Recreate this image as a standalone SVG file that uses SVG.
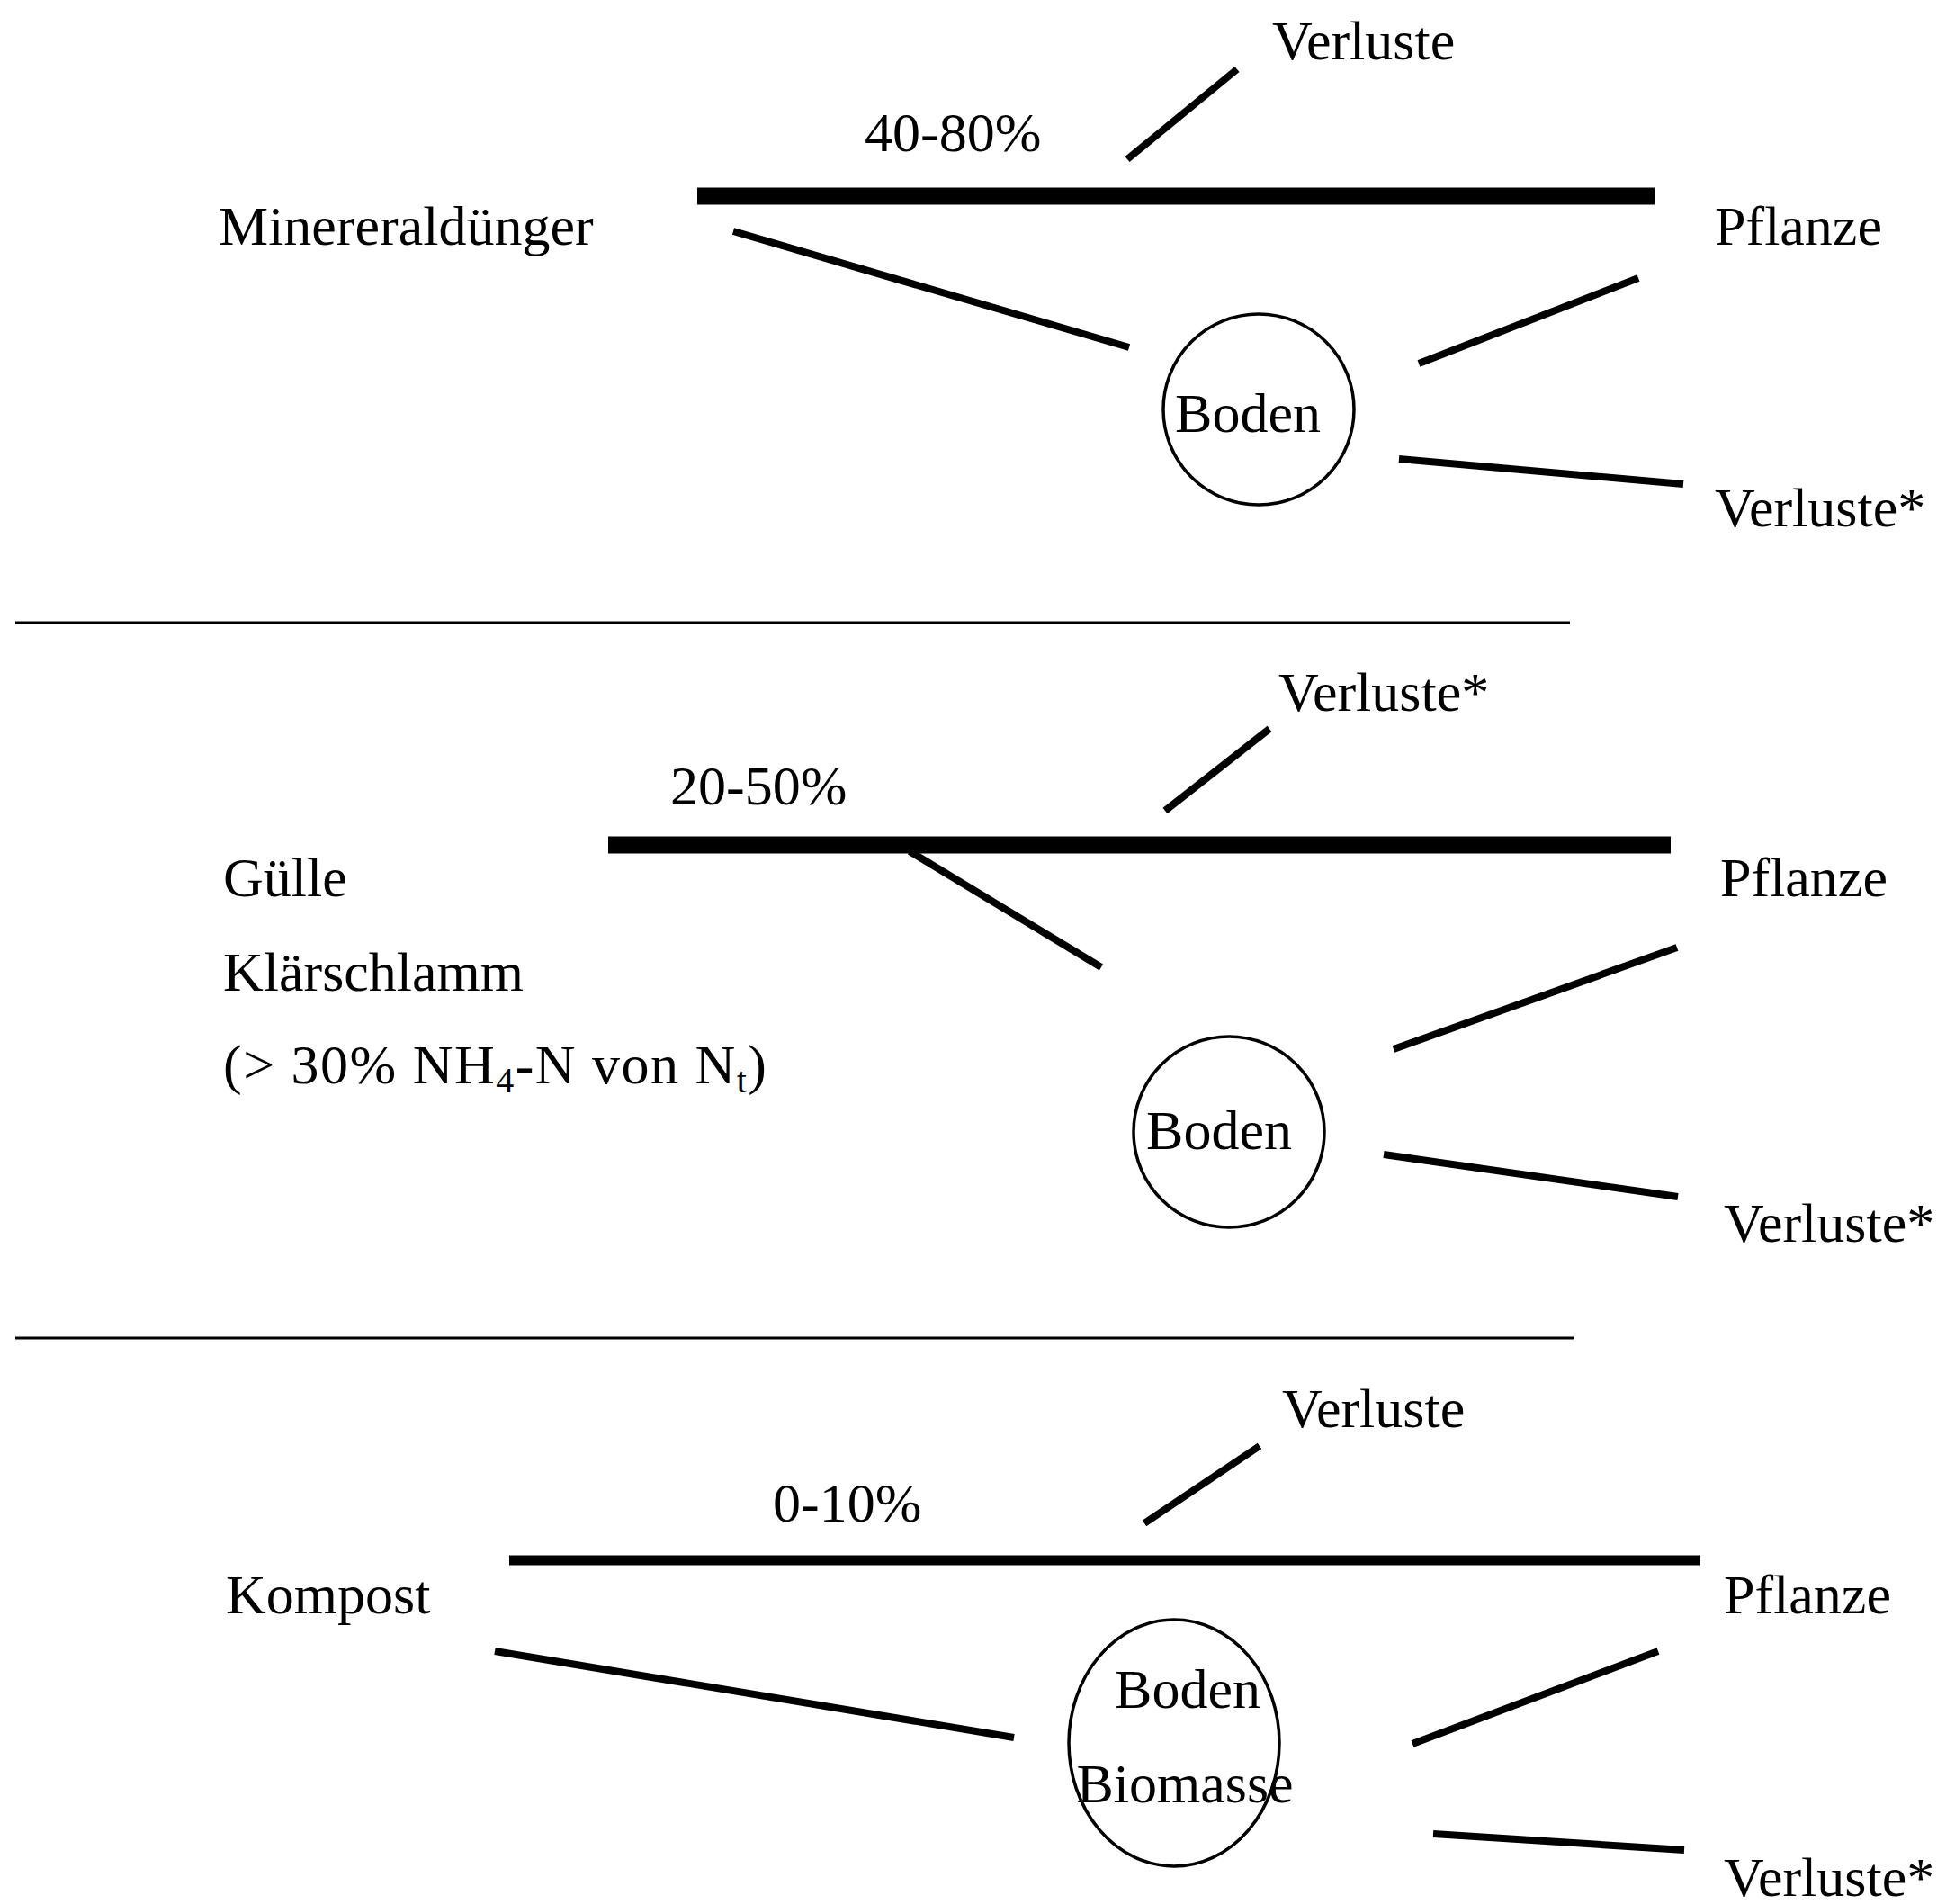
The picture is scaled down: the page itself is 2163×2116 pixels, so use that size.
<svg xmlns="http://www.w3.org/2000/svg" width="2163" height="2116" viewBox="0 0 2163 2116">
<style>
text{font-family:"Liberation Serif","Times New Roman",serif;font-size:62px;fill:#000}
.mid{text-anchor:middle}
.bar{stroke:#000;stroke-width:19;stroke-linecap:butt}
.ln{stroke:#000;stroke-width:8;stroke-linecap:butt}
.div{stroke:#000;stroke-width:3}
.node{fill:none;stroke:#000;stroke-width:3.5}
.sub{font-size:40px}
</style>
<rect width="2163" height="2116" fill="#fff"/>
<g id="connectors">
<line class="bar" x1="775" y1="218" x2="1839" y2="218"/>
<line class="ln" x1="1253" y1="177" x2="1375" y2="77"/>
<line class="ln" x1="815" y1="257" x2="1255" y2="386"/>
<line class="ln" x1="1577" y1="404" x2="1821" y2="309"/>
<line class="ln" x1="1555" y1="510" x2="1871" y2="538"/>
<line class="bar" x1="676" y1="939" x2="1857" y2="939"/>
<line class="ln" x1="1295" y1="901" x2="1411" y2="810"/>
<line class="ln" x1="1011" y1="946" x2="1224" y2="1075"/>
<line class="ln" x1="1549" y1="1166" x2="1864" y2="1053"/>
<line class="ln" x1="1538" y1="1283" x2="1865" y2="1330"/>
<line class="bar" style="stroke-width:11" x1="566" y1="1734" x2="1890" y2="1734"/>
<line class="ln" x1="1272" y1="1693" x2="1400" y2="1607"/>
<line class="ln" x1="550" y1="1835" x2="1127" y2="1931"/>
<line class="ln" x1="1570" y1="1938" x2="1843" y2="1835"/>
<line class="ln" x1="1593" y1="2038" x2="1872" y2="2056"/>
</g>
<g id="dividers">
<line class="div" x1="17" y1="692" x2="1745" y2="692"/>
<line class="div" x1="17" y1="1487" x2="1749" y2="1487"/>
</g>
<g id="s1-mineral"><text x="243" y="272">Minereraldünger</text></g>
<g id="s1-pct"><text x="961" y="168">40-80%</text></g>
<g id="s1-verluste"><text x="1414" y="66">Verluste</text></g>
<g id="s1-pflanze"><text x="1906" y="272">Pflanze</text></g>
<g id="s1-boden"><circle class="node" cx="1399" cy="455" r="106"/><text class="mid" x="1387" y="480">Boden</text></g>
<g id="s1-verluste2"><text x="1906" y="585">Verluste*</text></g>
<g id="s2-inputs">
<text x="248" y="996">Gülle</text>
<text x="248" y="1101">Klärschlamm</text>
<text x="248" y="1204" textLength="604" lengthAdjust="spacing">(&gt; 30% NH<tspan class="sub" dy="10">4</tspan><tspan dy="-10">-N von N</tspan><tspan class="sub" dy="10">t</tspan><tspan dy="-10">)</tspan></text>
</g>
<g id="s2-pct"><text x="745" y="894">20-50%</text></g>
<g id="s2-verluste"><text x="1421" y="790">Verluste*</text></g>
<g id="s2-pflanze"><text x="1912" y="996">Pflanze</text></g>
<g id="s2-boden"><circle class="node" cx="1366" cy="1258" r="106"/><text class="mid" x="1355" y="1277">Boden</text></g>
<g id="s2-verluste2"><text x="1916" y="1380">Verluste*</text></g>
<g id="s3-kompost"><text x="251" y="1793">Kompost</text></g>
<g id="s3-pct"><text x="859" y="1691">0-10%</text></g>
<g id="s3-verluste"><text x="1425" y="1586">Verluste</text></g>
<g id="s3-pflanze"><text x="1916" y="1793">Pflanze</text></g>
<g id="s3-boden"><ellipse class="node" cx="1305" cy="1937" rx="117" ry="137"/><text class="mid" x="1320" y="1898">Boden</text><text class="mid" x="1317" y="2003">Biomasse</text></g>
<g id="s3-verluste2"><text x="1916" y="2107">Verluste*</text></g>
</svg>
